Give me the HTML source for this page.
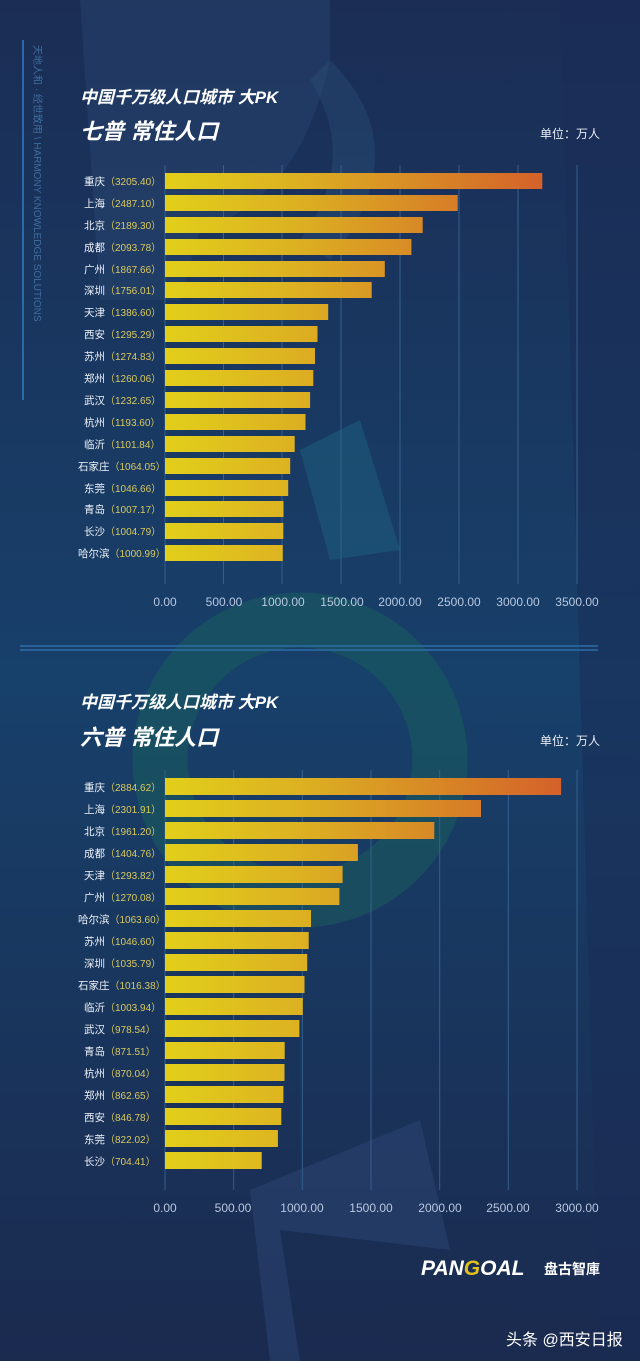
<!DOCTYPE html>
<html><head><meta charset="utf-8"><style>
html,body{margin:0;padding:0;background:#1b2a4f;}
svg{display:block}
text{font-family:"Liberation Sans","Noto Sans CJK SC",sans-serif;}
.t1{font-size:17px;font-weight:bold;font-style:italic;fill:#fff}
.t2{font-size:22px;font-weight:bold;font-style:italic;fill:#fff}
.u{font-size:12px;fill:#e8ecf4}
.c{font-size:10.5px;fill:#eef2f8}
.c tspan{fill:#d9c95c;font-size:10px}
.ax{font-size:12px;fill:#b8c8e0;text-anchor:middle}
.g{stroke:#34608e;stroke-width:1}
</style></head><body>
<svg width="640" height="1361" viewBox="0 0 640 1361" xmlns="http://www.w3.org/2000/svg">
<defs>
<linearGradient id="bg" x1="0" y1="0" x2="0" y2="1">
<stop offset="0" stop-color="#1b2d55"/><stop offset="0.5" stop-color="#17406a"/><stop offset="1" stop-color="#1b2a4f"/>
</linearGradient>
<linearGradient id="b1" gradientUnits="userSpaceOnUse" x1="165" y1="0" x2="545" y2="0">
<stop offset="0" stop-color="#e2cf1a"/><stop offset="0.35" stop-color="#dcb022"/><stop offset="1" stop-color="#d4612a"/>
</linearGradient>
<linearGradient id="b2" gradientUnits="userSpaceOnUse" x1="165" y1="0" x2="562" y2="0">
<stop offset="0" stop-color="#e2cf1a"/><stop offset="0.35" stop-color="#dcb022"/><stop offset="1" stop-color="#d4612a"/>
</linearGradient>
</defs>
<rect width="640" height="1361" fill="url(#bg)"/>
<path d="M80 0 L330 0 L330 60 Q300 200 200 230 L180 300 L100 300 Z" fill="#2a4670" opacity="0.45"/>
<path d="M330 60 Q420 150 330 260 L300 240 Q360 160 310 80 Z" fill="#2a5078" opacity="0.4"/>
<path d="M300 450 L360 420 L400 550 L330 560 Z" fill="#1e6080" opacity="0.5"/>
<circle cx="300" cy="760" r="140" fill="none" stroke="#1b6a5a" stroke-width="55" opacity="0.4"/>
<path d="M250 1190 L420 1120 L450 1250 L280 1230 L300 1361 L270 1361 Z" fill="#2e4a78" opacity="0.45"/>
<path d="M560 0 L640 0 L640 1361 L600 1361 Z" fill="#1a2c55" opacity="0.5"/>
<line x1="23" y1="40" x2="23" y2="400" stroke="#2a6aa8" stroke-width="2"/>
<text x="0" y="0" transform="translate(34,45) rotate(90)" style="font-size:10px;fill:#3d6e9e">天地人和 · 经世致用 \ HARMONY KNOWLEDGE SOLUTIONS</text>

<text x="80" y="103" class="t1">中国千万级人口城市  大PK</text>
<text x="80" y="139" class="t2">七普  常住人口</text>
<text x="540" y="138" class="u">单位：万人</text>
<g class="g">
<line x1="165" y1="165" x2="165" y2="584"/><line x1="223.5" y1="165" x2="223.5" y2="584"/><line x1="282" y1="165" x2="282" y2="584"/><line x1="341" y1="165" x2="341" y2="584"/><line x1="400" y1="165" x2="400" y2="584"/><line x1="459" y1="165" x2="459" y2="584"/><line x1="518" y1="165" x2="518" y2="584"/><line x1="577" y1="165" x2="577" y2="584"/>
</g>
<g fill="url(#b1)">
<rect x="165" y="173" width="377.3" height="16"/>
<rect x="165" y="195" width="292.7" height="16"/>
<rect x="165" y="217" width="257.7" height="16"/>
<rect x="165" y="239" width="246.4" height="16"/>
<rect x="165" y="261" width="219.8" height="16"/>
<rect x="165" y="282" width="206.7" height="16"/>
<rect x="165" y="304" width="163.2" height="16"/>
<rect x="165" y="326" width="152.5" height="16"/>
<rect x="165" y="348" width="150.0" height="16"/>
<rect x="165" y="370" width="148.3" height="16"/>
<rect x="165" y="392" width="145.1" height="16"/>
<rect x="165" y="414" width="140.5" height="16"/>
<rect x="165" y="436" width="129.7" height="16"/>
<rect x="165" y="458" width="125.2" height="16"/>
<rect x="165" y="480" width="123.2" height="16"/>
<rect x="165" y="501" width="118.5" height="16"/>
<rect x="165" y="523" width="118.3" height="16"/>
<rect x="165" y="545" width="117.8" height="16"/>
</g>
<g class="c">
<text x="84" y="185">重庆<tspan>（3205.40）</tspan></text>
<text x="84" y="207">上海<tspan>（2487.10）</tspan></text>
<text x="84" y="229">北京<tspan>（2189.30）</tspan></text>
<text x="84" y="251">成都<tspan>（2093.78）</tspan></text>
<text x="84" y="273">广州<tspan>（1867.66）</tspan></text>
<text x="84" y="294">深圳<tspan>（1756.01）</tspan></text>
<text x="84" y="316">天津<tspan>（1386.60）</tspan></text>
<text x="84" y="338">西安<tspan>（1295.29）</tspan></text>
<text x="84" y="360">苏州<tspan>（1274.83）</tspan></text>
<text x="84" y="382">郑州<tspan>（1260.06）</tspan></text>
<text x="84" y="404">武汉<tspan>（1232.65）</tspan></text>
<text x="84" y="426">杭州<tspan>（1193.60）</tspan></text>
<text x="84" y="448">临沂<tspan>（1101.84）</tspan></text>
<text x="78" y="470">石家庄<tspan>（1064.05）</tspan></text>
<text x="84" y="492">东莞<tspan>（1046.66）</tspan></text>
<text x="84" y="513">青岛<tspan>（1007.17）</tspan></text>
<text x="84" y="535">长沙<tspan>（1004.79）</tspan></text>
<text x="78" y="557">哈尔滨<tspan>（1000.99）</tspan></text>
</g>
<g class="ax">
<text x="165" y="606">0.00</text><text x="224" y="606">500.00</text><text x="283" y="606">1000.00</text><text x="342" y="606">1500.00</text><text x="400" y="606">2000.00</text><text x="459" y="606">2500.00</text><text x="518" y="606">3000.00</text><text x="577" y="606">3500.00</text>
</g>
<line x1="20" y1="646" x2="598" y2="646" stroke="#2e6fa8" stroke-width="1.5"/>
<line x1="20" y1="650" x2="598" y2="650" stroke="#2e6fa8" stroke-width="1.5"/>

<text x="80" y="708" class="t1">中国千万级人口城市  大PK</text>
<text x="80" y="745" class="t2">六普  常住人口</text>
<text x="540" y="745" class="u">单位：万人</text>
<g class="g">
<line x1="165" y1="770" x2="165" y2="1190"/><line x1="233.7" y1="770" x2="233.7" y2="1190"/><line x1="302.3" y1="770" x2="302.3" y2="1190"/><line x1="371" y1="770" x2="371" y2="1190"/><line x1="439.7" y1="770" x2="439.7" y2="1190"/><line x1="508.3" y1="770" x2="508.3" y2="1190"/><line x1="577" y1="770" x2="577" y2="1190"/>
</g>
<g fill="url(#b2)">
<rect x="165" y="778" width="396.1" height="17"/>
<rect x="165" y="800" width="316.0" height="17"/>
<rect x="165" y="822" width="269.3" height="17"/>
<rect x="165" y="844" width="192.9" height="17"/>
<rect x="165" y="866" width="177.6" height="17"/>
<rect x="165" y="888" width="174.4" height="17"/>
<rect x="165" y="910" width="146.0" height="17"/>
<rect x="165" y="932" width="143.7" height="17"/>
<rect x="165" y="954" width="142.2" height="17"/>
<rect x="165" y="976" width="139.5" height="17"/>
<rect x="165" y="998" width="137.8" height="17"/>
<rect x="165" y="1020" width="134.4" height="17"/>
<rect x="165" y="1042" width="119.7" height="17"/>
<rect x="165" y="1064" width="119.5" height="17"/>
<rect x="165" y="1086" width="118.4" height="17"/>
<rect x="165" y="1108" width="116.3" height="17"/>
<rect x="165" y="1130" width="112.9" height="17"/>
<rect x="165" y="1152" width="96.7" height="17"/>
</g>
<g class="c">
<text x="84" y="791">重庆<tspan>（2884.62）</tspan></text>
<text x="84" y="813">上海<tspan>（2301.91）</tspan></text>
<text x="84" y="835">北京<tspan>（1961.20）</tspan></text>
<text x="84" y="857">成都<tspan>（1404.76）</tspan></text>
<text x="84" y="879">天津<tspan>（1293.82）</tspan></text>
<text x="84" y="901">广州<tspan>（1270.08）</tspan></text>
<text x="78" y="923">哈尔滨<tspan>（1063.60）</tspan></text>
<text x="84" y="945">苏州<tspan>（1046.60）</tspan></text>
<text x="84" y="967">深圳<tspan>（1035.79）</tspan></text>
<text x="78" y="989">石家庄<tspan>（1016.38）</tspan></text>
<text x="84" y="1011">临沂<tspan>（1003.94）</tspan></text>
<text x="84" y="1033">武汉<tspan>（978.54）</tspan></text>
<text x="84" y="1055">青岛<tspan>（871.51）</tspan></text>
<text x="84" y="1077">杭州<tspan>（870.04）</tspan></text>
<text x="84" y="1099">郑州<tspan>（862.65）</tspan></text>
<text x="84" y="1121">西安<tspan>（846.78）</tspan></text>
<text x="84" y="1143">东莞<tspan>（822.02）</tspan></text>
<text x="84" y="1165">长沙<tspan>（704.41）</tspan></text>
</g>
<g class="ax">
<text x="165" y="1212">0.00</text><text x="233" y="1212">500.00</text><text x="302" y="1212">1000.00</text><text x="371" y="1212">1500.00</text><text x="440" y="1212">2000.00</text><text x="508" y="1212">2500.00</text><text x="577" y="1212">3000.00</text>
</g>
<text x="421" y="1275" style="font-size:21px;font-weight:bold;font-style:italic;fill:#fff">PAN<tspan fill="#e2c21a">G</tspan>OAL</text>
<text x="544" y="1274" style="font-size:14px;font-weight:bold;fill:#fff">盘古智庫</text>
<text x="506" y="1345" style="font-size:16px;fill:#fff">头条 @西安日报</text>
</svg>
</body></html>
